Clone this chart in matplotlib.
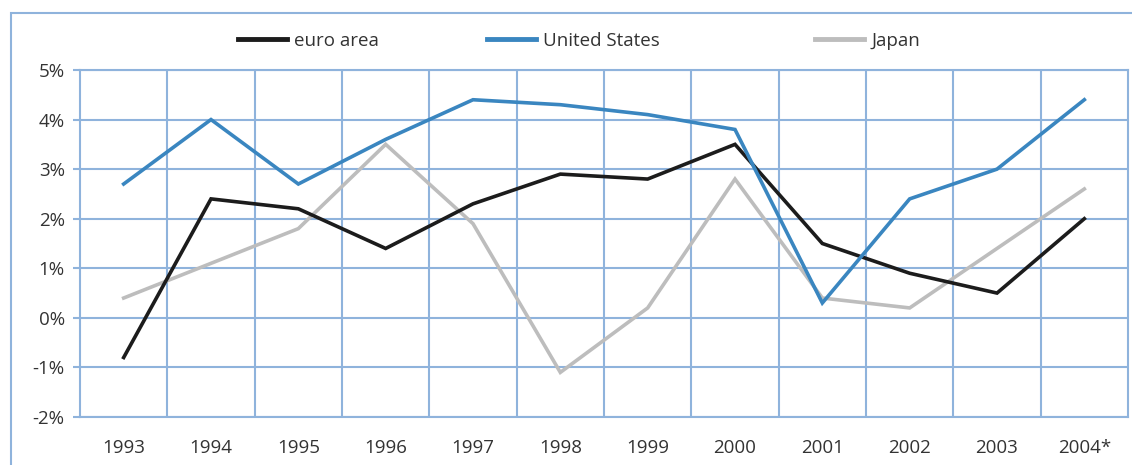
import matplotlib
matplotlib.use("Agg")
import matplotlib.pyplot as plt
from matplotlib.patches import Rectangle
from matplotlib.ticker import FuncFormatter

years = ["1993", "1994", "1995", "1996", "1997", "1998", "1999", "2000", "2001", "2002", "2003", "2004*"]
euro_area = [-0.8, 2.4, 2.2, 1.4, 2.3, 2.9, 2.8, 3.5, 1.5, 0.9, 0.5, 2.0]
united_states = [2.7, 4.0, 2.7, 3.6, 4.4, 4.3, 4.1, 3.8, 0.3, 2.4, 3.0, 4.4]
japan = [0.4, 1.1, 1.8, 3.5, 1.9, -1.1, 0.2, 2.8, 0.4, 0.2, 1.4, 2.6]

grid_c = "#8fb3dc"
text_c = "#333333"
plt.rcParams['font.family'] = ['Open Sans', 'DejaVu Sans']

fig = plt.figure(figsize=(11.32, 4.65), dpi=100)
ax = fig.add_axes([80/1132, 48/465, 1048/1132, 347/465])

x = list(range(len(years)))
l_jp, = ax.plot(x, japan, color="#bdbdbd", lw=2.6, label="Japan", solid_joinstyle="miter", zorder=2)
l_eu, = ax.plot(x, euro_area, color="#1c1c1c", lw=2.6, label="euro area", solid_joinstyle="miter", zorder=3)
l_us, = ax.plot(x, united_states, color="#3a86c0", lw=2.6, label="United States", solid_joinstyle="miter", zorder=4)
ax.set_xlim(-0.5, len(years) - 0.5)
ax.set_ylim(-2, 5)
ax.set_yticks(range(-2, 6))
ax.yaxis.set_major_formatter(FuncFormatter(lambda v, p: f"{int(v)}%"))
ax.set_xticks(x)
ax.set_xticklabels(years)
for v in range(-2, 6):
    ax.axhline(v, color=grid_c, lw=1.5, zorder=0)
for i in x[:-1]:
    ax.axvline(i + 0.5, color=grid_c, lw=1.5, zorder=0)
for s in ["left", "right", "top", "bottom"]:
    ax.spines[s].set_color(grid_c)
    ax.spines[s].set_linewidth(1.5)
ax.tick_params(axis="y", length=5, width=1.5, color=grid_c, labelsize=13.5, labelcolor=text_c, pad=6)
ax.tick_params(axis="x", which="both", length=0, labelsize=13.5, labelcolor=text_c, pad=16)

ly = (465 - 41) / 465
for handle, xpx in [(l_eu, 238), (l_us, 487), (l_jp, 815)]:
    lg = fig.legend([handle], [handle.get_label()], loc="center left",
                    bbox_to_anchor=(xpx / 1132, ly), frameon=False, fontsize=13.5,
                    handlelength=2.6, handletextpad=0.4, borderaxespad=0, borderpad=0,
                    labelcolor=text_c)
    for l in lg.get_lines():
        l.set_linewidth(3.5)

fig.patches.append(Rectangle((11/1132, -0.2), 2.0, (465 - 13) / 465 + 0.2, transform=fig.transFigure,
                             fill=False, edgecolor=grid_c, lw=1.5))

fig.savefig("out.png", dpi=100)
